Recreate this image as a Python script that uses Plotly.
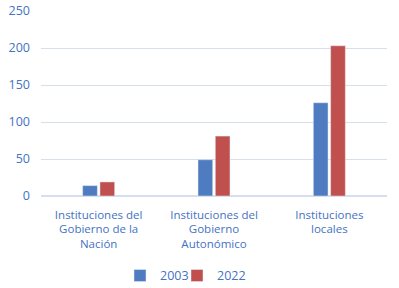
import plotly.graph_objects as go

categories = ["Instituciones del<br>Gobierno de la<br>Nación",
              "Instituciones del<br>Gobierno<br>Autonómico",
              "Instituciones<br>locales"]
series_names = ["2003", "2022"]
values_2003 = [14, 49, 126]
values_2022 = [19, 81, 203]
y_ticks = [0, 50, 100, 150, 200, 250]

text_color = "#4472C4"
fig = go.Figure()
fig.add_trace(go.Bar(name=series_names[0], x=categories, y=values_2003, marker_color="#4F7BC0",
                     legend="legend"))
fig.add_trace(go.Bar(name=series_names[1], x=categories, y=values_2022, marker_color="#C0504D",
                     legend="legend2"))

leg_common = dict(orientation="h", xref="container", yref="container",
                  xanchor="left", y=0.042, yanchor="middle",
                  font=dict(size=12.5, color=text_color), bgcolor="rgba(0,0,0,0)")

fig.update_layout(
    width=399, height=288,
    margin=dict(l=41, r=12, t=11, b=92, autoexpand=False),
    paper_bgcolor="white", plot_bgcolor="white",
    barmode="group", bargap=0.70, bargroupgap=0.15,
    font=dict(family="Open Sans", size=11.5, color=text_color),
    showlegend=True,
    legend=dict(x=120 / 399, **leg_common),
    legend2=dict(x=177 / 399, **leg_common),
    xaxis=dict(showgrid=False, showline=False, ticks="", ticklabelstandoff=10,
               tickfont=dict(size=11.5, color=text_color)),
    yaxis=dict(range=[0, 250], tickvals=y_ticks, gridcolor="#D6DFF0", gridwidth=1,
               zeroline=True, zerolinecolor="#D6DFF0", showline=False, ticks="",
               tickfont=dict(size=12.5, color=text_color), ticklabelstandoff=10),
)
fig.write_html("out.html", config={"displayModeBar": False},
               post_script="document.body.style.margin='0';")
